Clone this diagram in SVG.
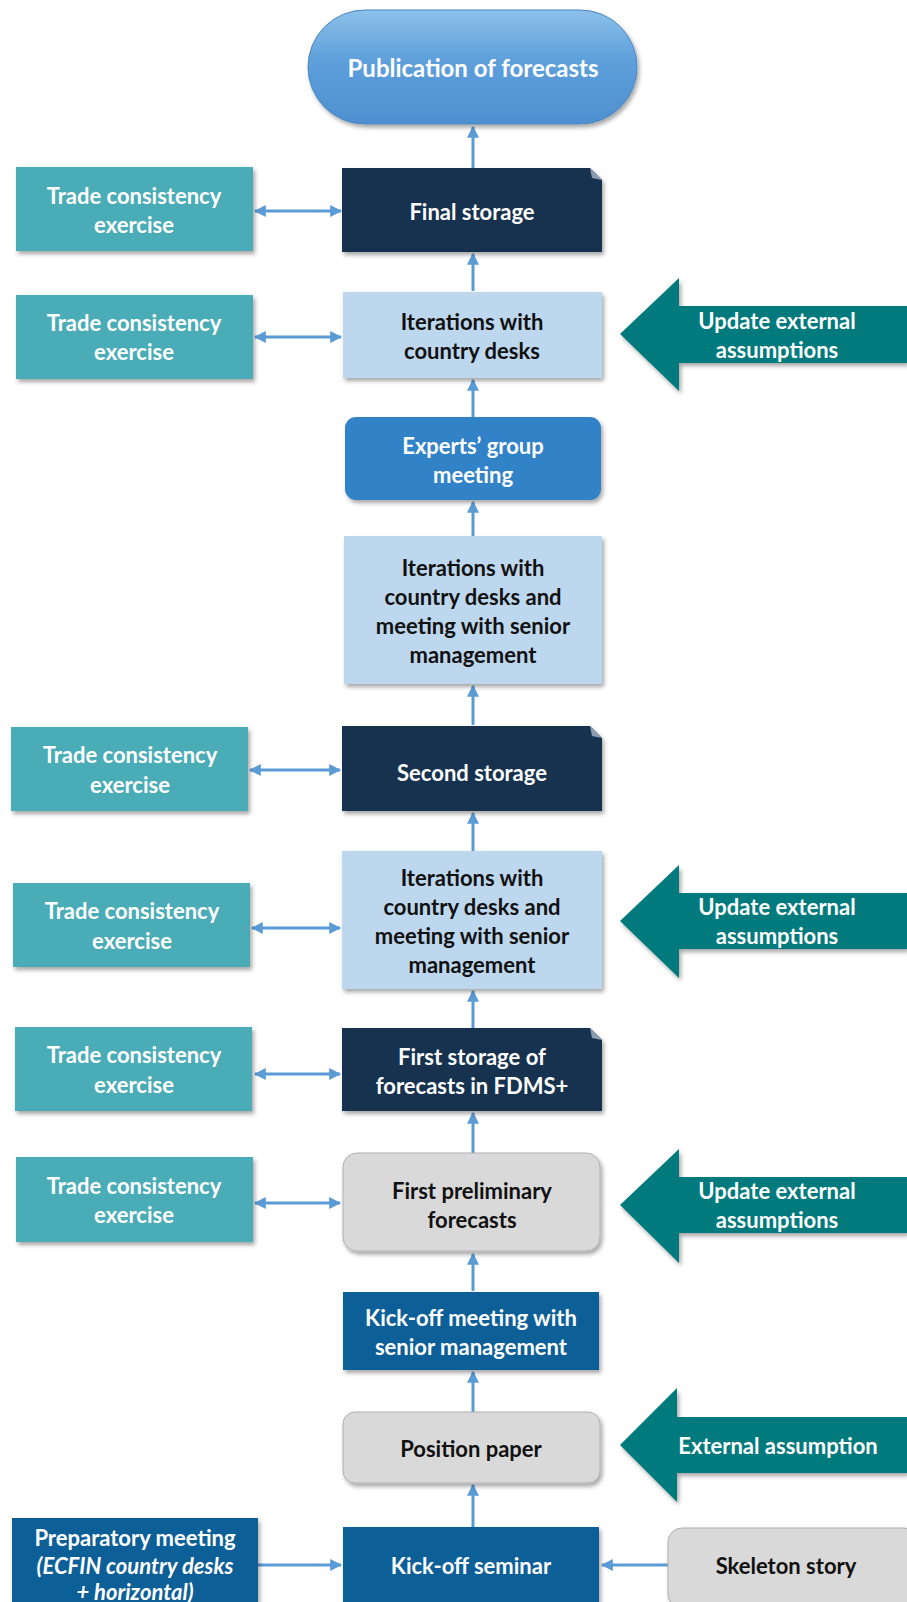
<svg xmlns="http://www.w3.org/2000/svg" width="907" height="1602" viewBox="0 0 907 1602">
<style>
text{font-family:Lato,"Open Sans","Liberation Sans",sans-serif;font-weight:bold;font-size:22px;text-anchor:middle;dominant-baseline:central}
.w{fill:#ffffff}
.k{fill:#111111}
.trade{fill:#4aacb6}
.navy{fill:#17304f}
.ltblue{fill:#bdd7ee}
.grey{fill:#d9d9d9;stroke:#b0b0b0;stroke-width:1}
.dkblue{fill:#085f98}
.ext{fill:#047a7b}
.conn{stroke:#5b9bd5;stroke-width:3;fill:none}
</style>
<defs>
<filter id="sh" x="-10%" y="-10%" width="125%" height="130%">
<feDropShadow dx="2" dy="3" stdDeviation="2" flood-color="#000" flood-opacity="0.35"/>
</filter>
<linearGradient id="pill" x1="0" y1="0" x2="0" y2="1">
<stop offset="0" stop-color="#8cc1ea"/>
<stop offset="0.45" stop-color="#5d9fdb"/>
<stop offset="1" stop-color="#4e90cf"/>
</linearGradient>
<marker id="ah" viewBox="0 0 10 10" refX="9" refY="5" markerWidth="4" markerHeight="4" orient="auto-start-reverse">
<path d="M0,0 L10,5 L0,10 z" fill="#5b9bd5"/>
</marker>
</defs>

<g id="connectors">
<line class="conn" x1="473" y1="168" x2="473" y2="127" marker-end="url(#ah)"/>
<line class="conn" x1="473" y1="291" x2="473" y2="254" marker-end="url(#ah)"/>
<line class="conn" x1="473" y1="417" x2="473" y2="380" marker-end="url(#ah)"/>
<line class="conn" x1="473" y1="536" x2="473" y2="502" marker-end="url(#ah)"/>
<line class="conn" x1="473" y1="725" x2="473" y2="686" marker-end="url(#ah)"/>
<line class="conn" x1="473" y1="851" x2="473" y2="813" marker-end="url(#ah)"/>
<line class="conn" x1="473" y1="1028" x2="473" y2="991" marker-end="url(#ah)"/>
<line class="conn" x1="473" y1="1153" x2="473" y2="1113" marker-end="url(#ah)"/>
<line class="conn" x1="473" y1="1291" x2="473" y2="1254" marker-end="url(#ah)"/>
<line class="conn" x1="473" y1="1412" x2="473" y2="1372" marker-end="url(#ah)"/>
<line class="conn" x1="473" y1="1527" x2="473" y2="1485" marker-end="url(#ah)"/>
<line class="conn" x1="255" y1="211" x2="341" y2="211" marker-start="url(#ah)" marker-end="url(#ah)"/>
<line class="conn" x1="255" y1="337" x2="341" y2="337" marker-start="url(#ah)" marker-end="url(#ah)"/>
<line class="conn" x1="250" y1="770" x2="340" y2="770" marker-start="url(#ah)" marker-end="url(#ah)"/>
<line class="conn" x1="252" y1="928" x2="340" y2="928" marker-start="url(#ah)" marker-end="url(#ah)"/>
<line class="conn" x1="255" y1="1074" x2="340" y2="1074" marker-start="url(#ah)" marker-end="url(#ah)"/>
<line class="conn" x1="255" y1="1203" x2="340" y2="1203" marker-start="url(#ah)" marker-end="url(#ah)"/>
<line class="conn" x1="258" y1="1565" x2="341" y2="1565" marker-end="url(#ah)"/>
<line class="conn" x1="668" y1="1565" x2="602" y2="1565" marker-end="url(#ah)"/>
</g>

<g id="publication">
<rect x="308" y="10" width="329" height="114" rx="57" fill="url(#pill)" stroke="#4a86c0" stroke-width="1" filter="url(#sh)"/>
<text class="w" x="473" y="67" style="font-size:24px">Publication of forecasts</text>
</g>

<g id="final-storage">
<path class="navy" d="M342,168 H590 L602,180 V252 H342 Z" filter="url(#sh)"/>
<path d="M590,168 L602,180 L592,178 Z" fill="#8d9db0"/>
<text class="w" x="472" y="211">Final storage</text>
</g>

<g id="trade-1">
<rect class="trade" x="16" y="167" width="237" height="84" filter="url(#sh)"/>
<text class="w" x="134" y="195">Trade consistency</text>
<text class="w" x="134" y="224">exercise</text>
</g>

<g id="trade-2">
<rect class="trade" x="16" y="295" width="237" height="84" filter="url(#sh)"/>
<text class="w" x="134" y="322">Trade consistency</text>
<text class="w" x="134" y="351">exercise</text>
</g>

<g id="iterations-1">
<rect class="ltblue" x="343" y="292" width="259" height="86" filter="url(#sh)"/>
<text class="k" x="472" y="321">Iterations with</text>
<text class="k" x="472" y="350">country desks</text>
</g>

<g id="update-1">
<path class="ext" d="M620,334 L679,278 V306 H907 V363 H679 V391 Z" filter="url(#sh)"/>
<text class="w" x="777" y="320">Update external</text>
<text class="w" x="777" y="349">assumptions</text>
</g>

<g id="experts">
<rect x="345" y="417" width="256" height="83" rx="11" fill="#3282c8" filter="url(#sh)"/>
<text class="w" x="473" y="445">Experts’ group</text>
<text class="w" x="473" y="474">meeting</text>
</g>

<g id="iterations-2">
<rect class="ltblue" x="344" y="536" width="258" height="148" filter="url(#sh)"/>
<text class="k" x="473" y="567">Iterations with</text>
<text class="k" x="473" y="596">country desks and</text>
<text class="k" x="473" y="625">meeting with senior</text>
<text class="k" x="473" y="654">management</text>
</g>

<g id="second-storage">
<path class="navy" d="M342,726 H590 L602,738 V811 H342 Z" filter="url(#sh)"/>
<path d="M590,726 L602,738 L592,736 Z" fill="#8d9db0"/>
<text class="w" x="472" y="772">Second storage</text>
</g>

<g id="trade-3">
<rect class="trade" x="11" y="727" width="237" height="84" filter="url(#sh)"/>
<text class="w" x="130" y="754">Trade consistency</text>
<text class="w" x="130" y="784">exercise</text>
</g>

<g id="iterations-3">
<rect class="ltblue" x="342" y="851" width="260" height="138" filter="url(#sh)"/>
<text class="k" x="472" y="877">Iterations with</text>
<text class="k" x="472" y="906">country desks and</text>
<text class="k" x="472" y="935">meeting with senior</text>
<text class="k" x="472" y="964">management</text>
</g>

<g id="trade-4">
<rect class="trade" x="13" y="883" width="237" height="84" filter="url(#sh)"/>
<text class="w" x="132" y="910">Trade consistency</text>
<text class="w" x="132" y="940">exercise</text>
</g>

<g id="update-2">
<path class="ext" d="M620,921 L679,865 V893 H907 V949 H679 V978 Z" filter="url(#sh)"/>
<text class="w" x="777" y="906">Update external</text>
<text class="w" x="777" y="935">assumptions</text>
</g>

<g id="first-storage">
<path class="navy" d="M342,1028 H590 L602,1040 V1111 H342 Z" filter="url(#sh)"/>
<path d="M590,1028 L602,1040 L592,1038 Z" fill="#8d9db0"/>
<text class="w" x="472" y="1056">First storage of</text>
<text class="w" x="472" y="1085">forecasts in FDMS+</text>
</g>

<g id="trade-5">
<rect class="trade" x="15" y="1027" width="237" height="84" filter="url(#sh)"/>
<text class="w" x="134" y="1054">Trade consistency</text>
<text class="w" x="134" y="1084">exercise</text>
</g>

<g id="first-preliminary">
<rect class="grey" x="343" y="1153" width="257" height="98" rx="14" filter="url(#sh)"/>
<text class="k" x="472" y="1190">First preliminary</text>
<text class="k" x="472" y="1219">forecasts</text>
</g>

<g id="trade-6">
<rect class="trade" x="16" y="1157" width="237" height="85" filter="url(#sh)"/>
<text class="w" x="134" y="1185">Trade consistency</text>
<text class="w" x="134" y="1214">exercise</text>
</g>

<g id="update-3">
<path class="ext" d="M620,1205 L679,1149 V1177 H907 V1233 H679 V1263 Z" filter="url(#sh)"/>
<text class="w" x="777" y="1190">Update external</text>
<text class="w" x="777" y="1219">assumptions</text>
</g>

<g id="kickoff-meeting">
<rect class="dkblue" x="343" y="1292" width="256" height="78" filter="url(#sh)"/>
<text class="w" x="471" y="1317">Kick-off meeting with</text>
<text class="w" x="471" y="1346">senior management</text>
</g>

<g id="position-paper">
<rect class="grey" x="343" y="1412" width="257" height="71" rx="12" filter="url(#sh)"/>
<text class="k" x="471" y="1448">Position paper</text>
</g>

<g id="external-assumption">
<path class="ext" d="M620,1445 L677,1388 V1417 H907 V1473 H677 V1502 Z" filter="url(#sh)"/>
<text class="w" x="778" y="1445">External assumption</text>
</g>

<g id="kickoff-seminar">
<rect class="dkblue" x="343" y="1527" width="256" height="80" filter="url(#sh)"/>
<text class="w" x="471" y="1565">Kick-off seminar</text>
</g>

<g id="preparatory">
<rect class="dkblue" x="12" y="1518" width="246" height="90" filter="url(#sh)"/>
<text class="w" x="135" y="1537">Preparatory meeting</text>
<text class="w" x="135" y="1565" font-style="italic">(ECFIN country desks</text>
<text class="w" x="135" y="1591" font-style="italic">+ horizontal)</text>
</g>

<g id="skeleton">
<rect class="grey" x="668" y="1528" width="250" height="80" rx="14" filter="url(#sh)"/>
<text class="k" x="786" y="1565">Skeleton story</text>
</g>
</svg>
